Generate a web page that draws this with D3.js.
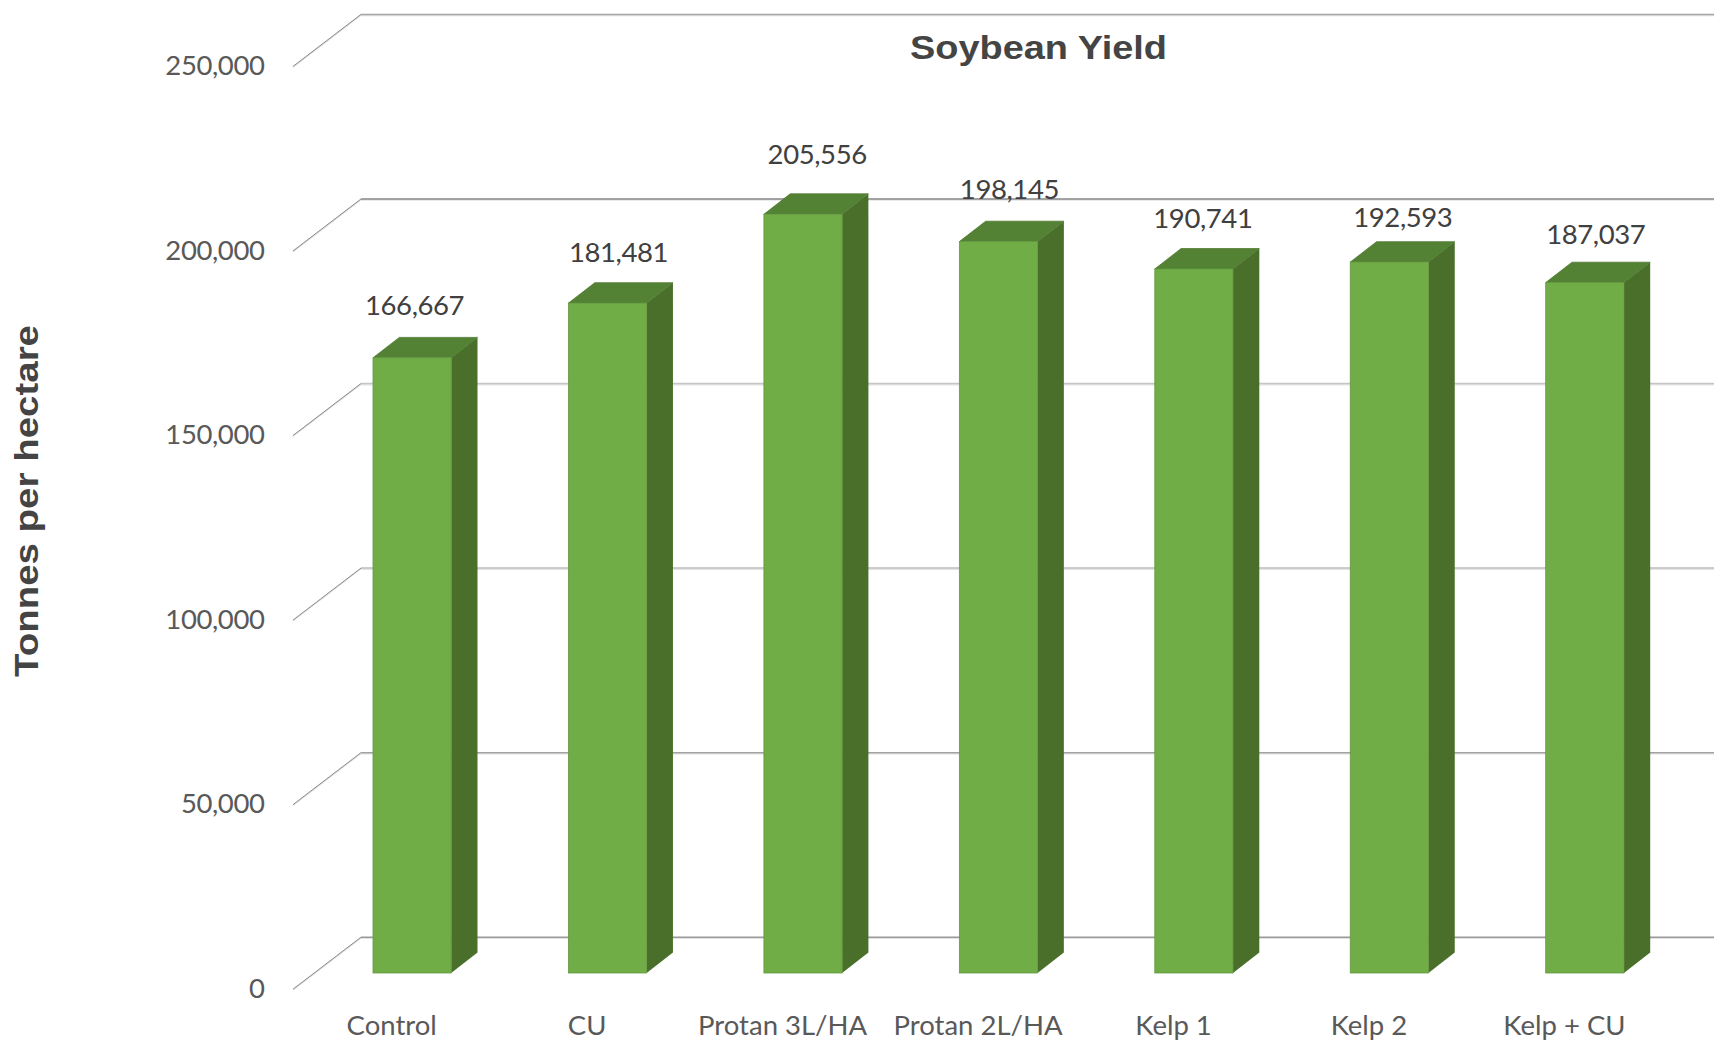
<!DOCTYPE html>
<html><head><meta charset="utf-8">
<script src="https://cdn.jsdelivr.net/npm/d3@7/dist/d3.min.js"></script>
<style>html,body{margin:0;padding:0;background:#fff;overflow:hidden}svg{display:block}</style>
</head><body><svg id="c" width="1714" height="1041"></svg>
<script>
const categories = ["Control","CU","Protan 3L/HA","Protan 2L/HA","Kelp 1","Kelp 2","Kelp + CU"];
const yields = [166667,181481,205556,198145,190741,192593,187037];
const yTicks = [0,50000,100000,150000,200000,250000];
const title = "Soybean Yield";
const yTitle = "Tonnes per hectare";
// hand-placed label nudges seen in the reference (px)
const labelNudgeX = [-10.5,-2,1.2,-2,-4,0.5,-2];
const labelNudgeY = [-43,-41,-50.5,-43,-41,-35,-38.5];

const W = 1714, H = 1041;
const svg = d3.select("#c").attr("viewBox",[0,0,W,H]);
const bandStep = 195.45, barW = 78.2, left0 = 373;
const x = d3.scaleBand().domain(categories)
  .range([left0, left0 + bandStep*categories.length - (bandStep-barW)])
  .paddingInner(1-barW/bandStep).paddingOuter(0);
const y = d3.scaleLinear().domain([0,250000]).range([973,50.2]);
const depthX = 26.3, depthY = 20.4;      // bar depth
const wallBack = -35.8, wallFront = 16.2;    // floor offset of the back wall & front edge
const diagL = 293, diagR = 361;

const font = "Lato, 'Open Sans', sans-serif";
const head = "'Liberation Sans', Arial, sans-serif";
const gridCol = {0:"#9a9a9a",50000:"#a2a2a2",100000:"#bdbdbd",150000:"#c6c6c6",200000:"#858585",250000:"#a6a6a6"};

// gridlines on back wall + diagonal on side wall
const g = svg.append("g");
yTicks.forEach(t=>{
  const yb = y(t)+wallBack, yf = y(t)+wallFront;
  g.append("line").attr("x1",diagR).attr("x2",W).attr("y1",yb+1.2).attr("y2",yb+1.2).attr("stroke","#e4e4e4").attr("stroke-width",1.4);
  g.append("line").attr("x1",diagR).attr("x2",W).attr("y1",yb).attr("y2",yb).attr("stroke",gridCol[t]).attr("stroke-width",1.5);
  g.append("line").attr("x1",diagL).attr("x2",diagR).attr("y1",yf+0.8).attr("y2",yb+0.8).attr("stroke","#dedede").attr("stroke-width",1.2);
  g.append("line").attr("x1",diagL).attr("x2",diagR).attr("y1",yf).attr("y2",yb).attr("stroke","#8a8a8a").attr("stroke-width",1);
});

// bars
const rows = categories.map((c,i)=>({c,v:yields[i],i}));
const bars = svg.append("g").selectAll("g").data(rows).join("g");
const poly = p => p.map(q=>q.join(",")).join(" ");
bars.append("polygon").attr("fill","#4a6f2b").attr("points",d=>{
  const l=x(d.c)+barW,t=y(d.v),b=y(0);
  return poly([[l,t],[l+depthX,t-depthY],[l+depthX,b-depthY],[l,b]]);});
bars.append("polygon").attr("fill","#548235").attr("stroke","#4f7a32").attr("stroke-width",.8).attr("points",d=>{
  const l=x(d.c),t=y(d.v);
  return poly([[l,t],[l+barW,t],[l+barW+depthX,t-depthY],[l+depthX,t-depthY]]);});
bars.append("rect").attr("fill","#70ad47").attr("stroke","#64983f").attr("stroke-width",.8)
  .attr("x",d=>x(d.c)).attr("width",barW).attr("y",d=>y(d.v)).attr("height",d=>y(0)-y(d.v));

// y axis (labels on the front plane)
const yAxis = d3.axisLeft(y.copy().range([y(0)+wallFront,y(250000)+wallFront]))
  .tickValues(yTicks).tickFormat(d3.format(",")).tickSize(0).tickPadding(0);
const ya = svg.append("g").attr("transform","translate(264.5,-0.5)").call(yAxis);
ya.select(".domain").remove();
ya.selectAll("text").attr("font-family",font).attr("font-size",27.5).attr("fill","#595959").attr("letter-spacing",-0.4);

// x axis
const xScale = d3.scalePoint().domain(categories).range([left0+18.2, left0+18.2+x.step()*(categories.length-1)]);
const xAxis = d3.axisBottom(xScale).tickSize(0).tickPadding(0);
const xa = svg.append("g").attr("transform","translate(0,1012)").call(xAxis);
xa.select(".domain").remove();
xa.selectAll("text").attr("font-family",font).attr("font-size",27.5).attr("fill","#595959").attr("dy",0).attr("y",23);

// data labels
svg.append("g").selectAll("text").data(rows).join("text")
  .attr("x",d=>x(d.c)+barW/2+13+labelNudgeX[d.i]).attr("y",d=>y(d.v)+labelNudgeY[d.i])
  .attr("text-anchor","middle").attr("font-family",font).attr("font-size",27.5).attr("fill","#404040").attr("letter-spacing",-0.4)
  .text(d=>d3.format(",")(d.v));

// titles
svg.append("text").attr("x",910).attr("y",59).attr("font-family",head).attr("font-weight",700)
  .attr("font-size",33).attr("fill","#444").attr("textLength",257).attr("lengthAdjust","spacingAndGlyphs").text(title);
svg.append("text").attr("transform","translate(38,677) rotate(-90)").attr("font-family",head).attr("font-weight",700)
  .attr("font-size",33).attr("fill","#444").attr("textLength",352).attr("lengthAdjust","spacingAndGlyphs").text(yTitle);
</script></body></html>
